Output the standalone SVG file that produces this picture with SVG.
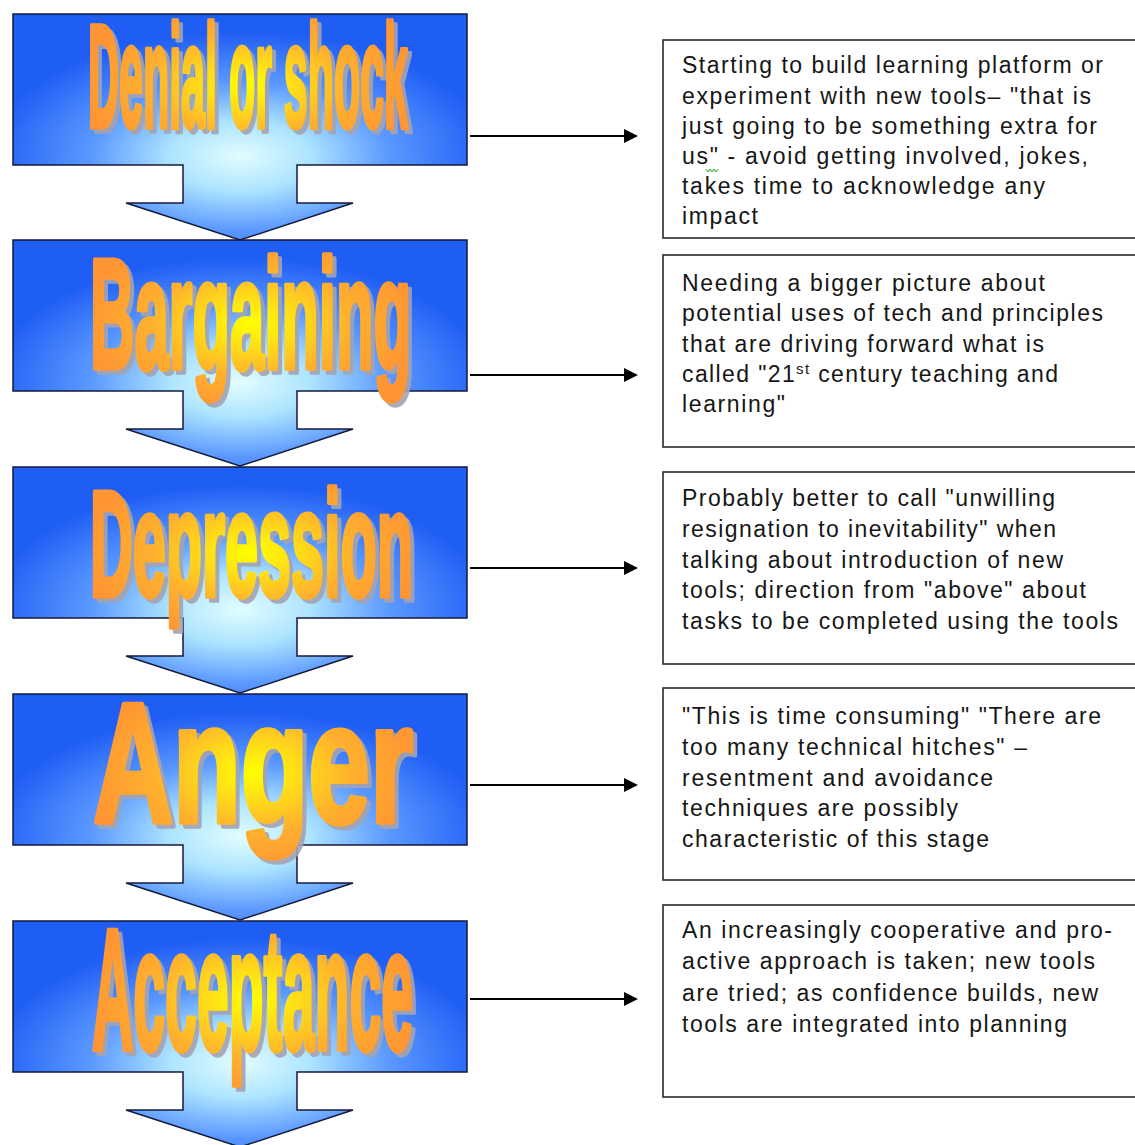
<svg xmlns="http://www.w3.org/2000/svg" xmlns:xlink="http://www.w3.org/1999/xlink" width="1135" height="1145" viewBox="0 0 1135 1145">
  <style>
    .stage-body { fill: url(#blueGlow); stroke: #141a3a; stroke-width: 1.5; stroke-linejoin: miter; }
    .word { font-family: 'Liberation Sans Narrow', 'Liberation Sans', Arial, sans-serif; font-weight: bold; }
    .word-shadow { fill: #a3a4b2; stroke: #a3a4b2; stroke-width: 5.5; stroke-linejoin: round; opacity: 0.9; }
    .word-face { fill: url(#orangeGlow); stroke: url(#orangeGlow); stroke-width: 5.5; stroke-linejoin: round; }
    .note-box { fill: #ffffff; stroke: #2a2a2a; stroke-width: 1.6; }
    .note { font-family: 'Liberation Sans', Arial, sans-serif; font-size: 23px; fill: #161616; }
    .link { stroke: #000000; stroke-width: 2; fill: none; marker-end: url(#head); }
  </style>
  <defs>
    <radialGradient id="blueGlow" cx="0.5" cy="0.63" r="0.55">
      <stop offset="0" stop-color="#e2fdff"/>
      <stop offset="0.28" stop-color="#ade4ff"/>
      <stop offset="0.6" stop-color="#5a98ff"/>
      <stop offset="1" stop-color="#1f5ef4"/>
    </radialGradient>
    <radialGradient id="orangeGlow" cx="0.5" cy="0.55" r="0.52">
      <stop offset="0" stop-color="#ffff00"/>
      <stop offset="0.22" stop-color="#ffe414"/>
      <stop offset="0.6" stop-color="#ffb02e"/>
      <stop offset="1" stop-color="#ff9633"/>
    </radialGradient>
    <path id="stageArrow" d="M13,14 H467 V165 H297 V203 H353 L240,240 L126,203 H183 V165 H13 Z"/>
    <marker id="head" markerUnits="userSpaceOnUse" markerWidth="16" markerHeight="16" refX="0" refY="7" orient="auto">
      <path d="M0,0 L14,7 L0,14 Z" fill="#000000"/>
    </marker>
  </defs>

  <!-- stage arrows, top to bottom so each one covers the previous tip -->
  <g id="stage-denial">
    <use xlink:href="#stageArrow" class="stage-body"/>
    <text class="word word-shadow" x="92" y="131" font-size="146" textLength="320" lengthAdjust="spacingAndGlyphs">Denial or shock</text>
    <text class="word word-face" x="88" y="127" font-size="146" textLength="320" lengthAdjust="spacingAndGlyphs">Denial or shock</text>
  </g>
  <g id="stage-bargaining" transform="translate(0,226)">
    <use xlink:href="#stageArrow" class="stage-body"/>
    <text class="word word-shadow" x="94" y="146" font-size="156" textLength="321" lengthAdjust="spacingAndGlyphs">Bargaining</text>
    <text class="word word-face" x="90" y="142" font-size="156" textLength="321" lengthAdjust="spacingAndGlyphs">Bargaining</text>
  </g>
  <g id="stage-depression" transform="translate(0,453)">
    <use xlink:href="#stageArrow" class="stage-body"/>
    <text class="word word-shadow" x="94" y="147" font-size="150" textLength="323" lengthAdjust="spacingAndGlyphs">Depression</text>
    <text class="word word-face" x="90" y="143" font-size="150" textLength="323" lengthAdjust="spacingAndGlyphs">Depression</text>
  </g>
  <g id="stage-anger" transform="translate(0,680)">
    <use xlink:href="#stageArrow" class="stage-body"/>
    <text class="word word-shadow" x="97" y="146" font-size="170" textLength="320" lengthAdjust="spacingAndGlyphs">Anger</text>
    <text class="word word-face" x="93" y="142" font-size="170" textLength="320" lengthAdjust="spacingAndGlyphs">Anger</text>
  </g>
  <g id="stage-acceptance" transform="translate(0,907)">
    <use xlink:href="#stageArrow" class="stage-body"/>
    <text class="word word-shadow" x="96" y="146" font-size="172" textLength="321" lengthAdjust="spacingAndGlyphs">Acceptance</text>
    <text class="word word-face" x="92" y="142" font-size="172" textLength="321" lengthAdjust="spacingAndGlyphs">Acceptance</text>
  </g>

  <!-- description boxes -->
  <g id="note-denial">
    <rect class="note-box" x="663" y="40" width="490" height="198"/>
    <text class="note" x="682" y="73" textLength="421">Starting to build learning platform or</text>
    <text class="note" x="682" y="104" textLength="409">experiment with new tools– "that is</text>
    <text class="note" x="682" y="134" textLength="415">just going to be something extra for</text>
    <text class="note" x="682" y="164" textLength="406">us" - avoid getting involved, jokes,</text>
    <path d="M706,169 l2,3 l2,-3 l2,3 l2,-3 l2,3 l2,-3" fill="none" stroke="#2e9a2e" stroke-width="1"/>
    <text class="note" x="682" y="194" textLength="363">takes time to acknowledge any</text>
    <text class="note" x="682" y="224" textLength="76">impact</text>
  </g>
  <g id="note-bargaining">
    <rect class="note-box" x="663" y="255" width="490" height="192"/>
    <text class="note" x="682" y="291" textLength="363">Needing a bigger picture about</text>
    <text class="note" x="682" y="321" textLength="421">potential uses of tech and principles</text>
    <text class="note" x="682" y="352" textLength="362">that are driving forward what is</text>
    <text class="note" x="682" y="382" textLength="376">called "21<tspan font-size="15" dy="-8">st</tspan><tspan dy="8"> century teaching and</tspan></text>
    <text class="note" x="682" y="412" textLength="103">learning"</text>
  </g>
  <g id="note-depression">
    <rect class="note-box" x="663" y="472" width="490" height="192"/>
    <text class="note" x="682" y="506" textLength="373">Probably better to call "unwilling</text>
    <text class="note" x="682" y="537" textLength="374">resignation to inevitability" when</text>
    <text class="note" x="682" y="568" textLength="381">talking about introduction of new</text>
    <text class="note" x="682" y="598" textLength="404">tools; direction from "above" about</text>
    <text class="note" x="682" y="629" textLength="436">tasks to be completed using the tools</text>
  </g>
  <g id="note-anger">
    <rect class="note-box" x="663" y="688" width="490" height="192"/>
    <text class="note" x="682" y="724" textLength="419">"This is time consuming" "There are</text>
    <text class="note" x="682" y="755" textLength="345">too many technical hitches" –</text>
    <text class="note" x="682" y="786" textLength="311">resentment and avoidance</text>
    <text class="note" x="682" y="816" textLength="276">techniques are possibly</text>
    <text class="note" x="682" y="847" textLength="307">characteristic of this stage</text>
  </g>
  <g id="note-acceptance">
    <rect class="note-box" x="663" y="905" width="490" height="192"/>
    <text class="note" x="682" y="938" textLength="430">An increasingly cooperative and pro-</text>
    <text class="note" x="682" y="969" textLength="413">active approach is taken; new tools</text>
    <text class="note" x="682" y="1001" textLength="416">are tried; as confidence builds, new</text>
    <text class="note" x="682" y="1032" textLength="385">tools are integrated into planning</text>
  </g>

  <!-- connectors from each stage to its description -->
  <g id="connectors">
    <line class="link" x1="470" y1="136" x2="624" y2="136"/>
    <line class="link" x1="470" y1="375" x2="624" y2="375"/>
    <line class="link" x1="470" y1="568" x2="624" y2="568"/>
    <line class="link" x1="470" y1="785" x2="624" y2="785"/>
    <line class="link" x1="470" y1="999" x2="624" y2="999"/>
  </g>
</svg>
